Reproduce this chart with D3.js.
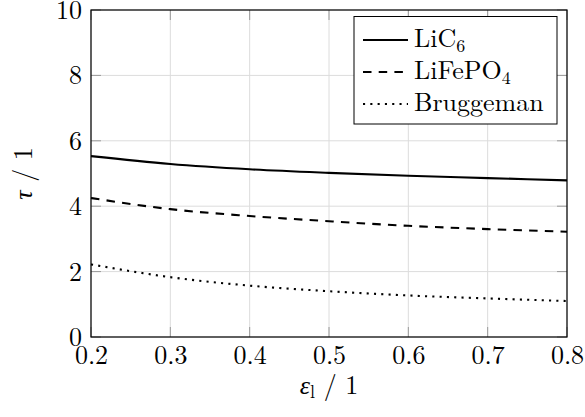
<!DOCTYPE html>
<html>
<head>
<meta charset="utf-8">
<script src="https://cdn.jsdelivr.net/npm/d3@7/dist/d3.min.js"></script>
<style>
  html, body { margin: 0; padding: 0; background: #fff; }
  svg { display: block; }
</style>
</head>
<body>
<svg id="chart" width="585" height="417"></svg>
<script>
// ---- data ----
const epsilon = [0.2, 0.3, 0.4, 0.5, 0.6, 0.7, 0.8];
const tauLiC6 = [5.53, 5.29, 5.13, 5.02, 4.93, 4.86, 4.79];
const tauLiFePO4 = [4.25, 3.91, 3.70, 3.54, 3.40, 3.30, 3.22];
const tauBruggeman = [2.22, 1.83, 1.57, 1.40, 1.27, 1.18, 1.10];
const xTicks = [0.2, 0.3, 0.4, 0.5, 0.6, 0.7, 0.8];
const yTicks = [0, 2, 4, 6, 8, 10];
const seriesNames = ["LiC", "LiFePO", "Bruggeman"];
const seriesSubs = ["6", "4", ""];

const FONT = "'Latin Modern Roman', 'CMU Serif', 'Liberation Serif', serif";

// ---- layout ----
const W = 585, H = 417;
const m = { left: 91, top: 10, right: 18, bottom: 80 };
const pw = W - m.left - m.right, ph = H - m.top - m.bottom;
const svg = d3.select("#chart");
const g = svg.append("g").attr("transform", `translate(${m.left},${m.top})`);

const x = d3.scaleLinear().domain([0.2, 0.8]).range([0, pw]);
const y = d3.scaleLinear().domain([0, 10]).range([ph, 0]);

// grid
g.append("g").selectAll("line").data(xTicks).join("line")
  .attr("x1", d => x(d)).attr("x2", d => x(d)).attr("y1", 0).attr("y2", ph)
  .attr("stroke", "#dcdcdc").attr("stroke-width", 1);
g.append("g").selectAll("line").data(yTicks).join("line")
  .attr("y1", d => y(d)).attr("y2", d => y(d)).attr("x1", 0).attr("x2", pw)
  .attr("stroke", "#dcdcdc").attr("stroke-width", 1);

// inner ticks on all four sides
const tl = 10;
const tickG = g.append("g").attr("stroke", "#9a9a9a").attr("stroke-width", 1);
xTicks.forEach(t => {
  tickG.append("line").attr("x1", x(t)).attr("x2", x(t)).attr("y1", ph).attr("y2", ph - tl);
  tickG.append("line").attr("x1", x(t)).attr("x2", x(t)).attr("y1", 0).attr("y2", tl);
});
yTicks.forEach(t => {
  tickG.append("line").attr("x1", 0).attr("x2", tl).attr("y1", y(t)).attr("y2", y(t));
  tickG.append("line").attr("x1", pw).attr("x2", pw - tl).attr("y1", y(t)).attr("y2", y(t));
});

// axes (labels via d3 axes)
const xAxis = d3.axisBottom(x).tickValues(xTicks).tickFormat(d3.format(".1f")).tickSize(0).tickPadding(0);
const xa = g.append("g").attr("transform", `translate(0,${ph})`).call(xAxis);
xa.select(".domain").remove();
xa.selectAll("text").style("font-family", FONT).style("font-size", "26px")
  .attr("dy", null).attr("y", 27);

const yAxis = d3.axisLeft(y).tickValues(yTicks).tickSize(0).tickPadding(0);
const ya = g.append("g").call(yAxis);
ya.select(".domain").remove();
ya.selectAll("text").style("font-family", FONT).style("font-size", "26px")
  .attr("dy", null).attr("x", -9).attr("y", 8.5);

// series lines
const series = [
  { vals: tauLiC6, dash: null },
  { vals: tauLiFePO4, dash: "8.5,7.2" },
  { vals: tauBruggeman, dash: "2.1,5.2" }
];
const line = d3.line().x(d => x(d[0])).y(d => y(d[1])).curve(d3.curveMonotoneX);
series.forEach(s => {
  g.append("path")
    .datum(epsilon.map((e, i) => [e, s.vals[i]]))
    .attr("d", line).attr("fill", "none").attr("stroke", "#000")
    .attr("stroke-width", 2.1).attr("stroke-dasharray", s.dash);
});

// frame
g.append("rect").attr("x", 0).attr("y", 0).attr("width", pw).attr("height", ph)
  .attr("fill", "none").attr("stroke", "#000").attr("stroke-width", 1.2);

// legend
const lg = svg.append("g");
lg.append("rect").attr("x", 354).attr("y", 16.5).attr("width", 203).attr("height", 107.5)
  .attr("fill", "#fff").attr("stroke", "#000").attr("stroke-width", 1);
const rowY = [40, 72, 104];
const baseY = [47, 79, 111];
series.forEach((s, i) => {
  lg.append("line").attr("x1", 363).attr("x2", 408).attr("y1", rowY[i]).attr("y2", rowY[i])
    .attr("stroke", "#000").attr("stroke-width", 2.1).attr("stroke-dasharray", s.dash);
  const t = lg.append("text").attr("x", 414).attr("y", baseY[i])
    .style("font-family", FONT).style("font-size", "26px");
  t.append("tspan").text(seriesNames[i]);
  if (seriesSubs[i]) t.append("tspan").style("font-size", "18px").attr("dy", 5).text(seriesSubs[i]);
});

// axis titles
const xl = svg.append("text").attr("x", m.left + pw / 2).attr("y", 393.5)
  .attr("text-anchor", "middle").style("font-family", FONT).style("font-size", "26px");
xl.append("tspan").style("font-style", "italic").text("ε");
xl.append("tspan").style("font-size", "18px").attr("dy", 4).text("l");
xl.append("tspan").attr("dy", -4).text(" / 1");

const yl = svg.append("text").attr("transform", `translate(32,${m.top + ph / 2}) rotate(-90)`)
  .attr("text-anchor", "middle").style("font-family", FONT).style("font-size", "26px");
yl.append("tspan").style("font-style", "italic").text("τ");
yl.append("tspan").text(" / 1");
</script>
</body>
</html>
